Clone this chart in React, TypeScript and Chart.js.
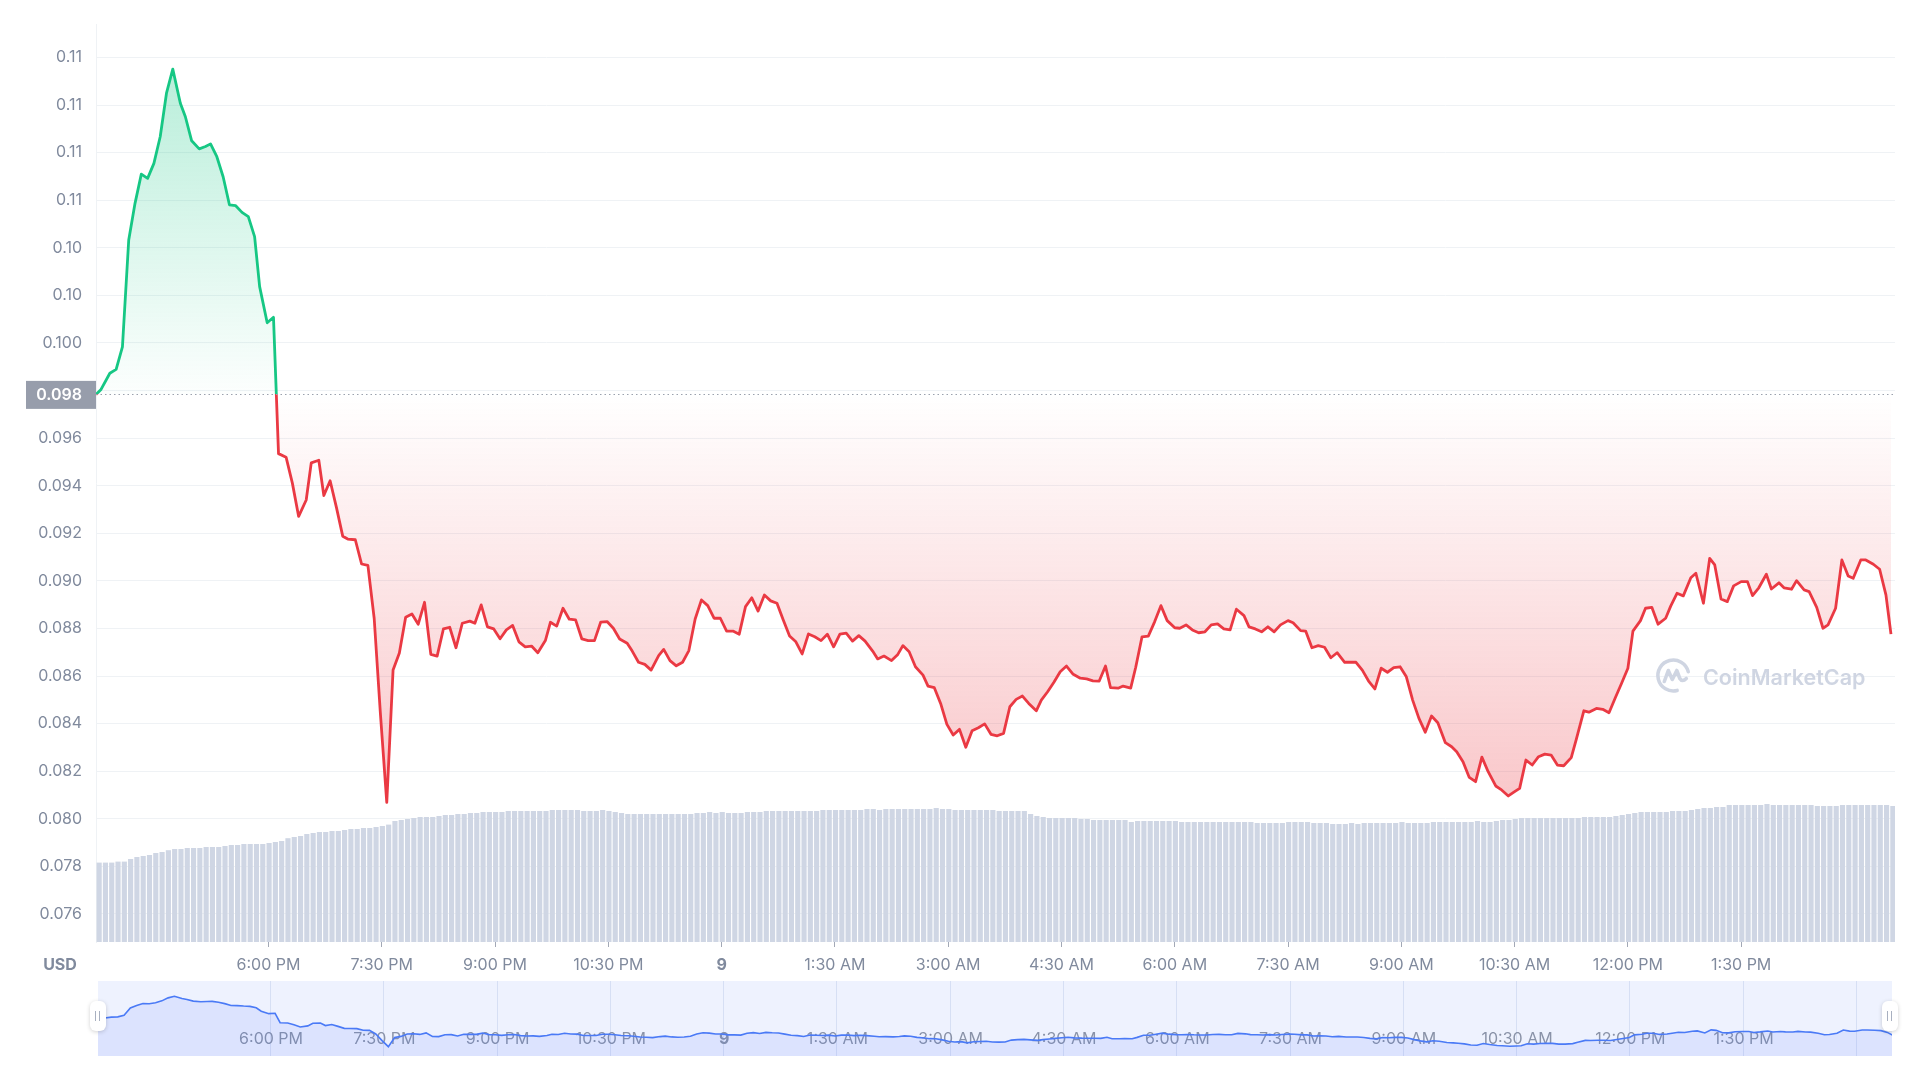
import React, { useEffect, useRef } from 'react';
import { Chart, registerables } from 'chart.js';

Chart.register(...registerables);

// ---------- data ----------
// time axis: minutes since midnight of the first day (15:43 = 943)
const startMinute = 943;
const axisEndMinute = 2372.2;

const xTickValues = [1080, 1170, 1260, 1350, 1440, 1530, 1620, 1710, 1800, 1890, 1980, 2070, 2160, 2250];
const xTickLabels = ['6:00 PM', '7:30 PM', '9:00 PM', '10:30 PM', '9', '1:30 AM', '3:00 AM', '4:30 AM', '6:00 AM', '7:30 AM', '9:00 AM', '10:30 AM', '12:00 PM', '1:30 PM'];
const dateTickValue = 1440;
const navGridValues = [1080, 1170, 1260, 1350, 1440, 1530, 1620, 1710, 1800, 1890, 1980, 2070, 2160, 2250, 2340];

const yTickValues = [0.076, 0.078, 0.08, 0.082, 0.084, 0.086, 0.088, 0.09, 0.092, 0.094, 0.096, 0.098, 0.1, 0.102, 0.104, 0.106, 0.108, 0.11, 0.112];
const yTickLabels = ['0.076', '0.078', '0.080', '0.082', '0.084', '0.086', '0.088', '0.090', '0.092', '0.094', '0.096', '0.098', '0.100', '0.10', '0.10', '0.11', '0.11', '0.11', '0.11'];
const yMin = 0.074821;
const yMax = 0.113409;

const openPrice = 0.09784;

// minutes after start for each price point
const priceMinutes = [
  0, 4, 11, 16, 21, 26, 31, 36, 41, 46,
  51, 56, 61, 67, 71, 76, 82, 87, 91, 96,
  101, 106, 111, 116, 121, 126, 130, 136, 141, 145,
  151, 156, 161, 167, 171, 177, 181, 186, 191, 196,
  200, 206, 211, 216, 221, 226, 231, 236, 241, 246,
  251, 256, 261, 266, 271, 276, 281, 286, 291, 297,
  301, 306, 311, 316, 321, 326, 331, 336, 341, 346,
  351, 357, 361, 366, 371, 376, 381, 386, 391, 396,
  401, 406, 411, 416, 422, 426, 431, 436, 441, 447,
  451, 456, 461, 466, 471, 476, 481, 486, 491, 496,
  501, 506, 511, 516, 521, 526, 531, 536, 541, 546,
  551, 556, 561, 566, 571, 576, 581, 586, 591, 596,
  601, 606, 611, 617, 621, 626, 632, 637, 641, 646,
  651, 657, 661, 666, 671, 676, 681, 686, 691, 696,
  701, 706, 711, 716, 721, 726, 731, 736, 741, 747,
  751, 756, 761, 766, 771, 776, 782, 787, 792, 797,
  802, 806, 812, 816, 822, 826, 831, 836, 841, 846,
  851, 857, 861, 866, 871, 876, 881, 886, 891, 896,
  901, 906, 912, 916, 921, 926, 931, 936, 941, 947,
  951, 957, 961, 966, 971, 976, 981, 986, 992, 996,
  1001, 1006, 1011, 1016, 1021, 1026, 1031, 1036, 1041, 1046,
  1051, 1056, 1061, 1066, 1072, 1077, 1081, 1086, 1091, 1096,
  1101, 1106, 1112, 1116, 1122, 1127, 1131, 1136, 1141, 1146,
  1151, 1156, 1161, 1166, 1172, 1176, 1182, 1186, 1192, 1197,
  1202, 1207, 1212, 1217, 1221, 1227, 1231, 1236, 1241, 1247,
  1251, 1256, 1261, 1267, 1271, 1277, 1282, 1286, 1291, 1296,
  1301, 1307, 1312, 1316, 1321, 1327, 1331, 1337, 1341, 1347,
  1351, 1357, 1361, 1367, 1372, 1376, 1382, 1387, 1392, 1396,
  1402, 1406, 1412, 1417, 1422, 1426,
];

const priceValues = [
  0.09784, 0.09805, 0.09873, 0.09889, 0.09984, 0.10433, 0.10587, 0.1071, 0.10692, 0.10755,
  0.10867, 0.1105, 0.11151, 0.11008, 0.10951, 0.1085, 0.10816, 0.10826, 0.10837, 0.10783,
  0.10699, 0.10581, 0.10577, 0.10549, 0.10531, 0.10447, 0.10237, 0.10085, 0.10108, 0.09535,
  0.0952, 0.09411, 0.09271, 0.0934, 0.09496, 0.09507, 0.09359, 0.09421, 0.09309, 0.09188,
  0.09176, 0.09173, 0.09071, 0.09065, 0.08843, 0.08438, 0.08069, 0.08625, 0.08697, 0.08847,
  0.08861, 0.08818, 0.0891, 0.08691, 0.08684, 0.08798, 0.08805, 0.08719, 0.08822, 0.08831,
  0.08822, 0.08899, 0.08807, 0.08798, 0.08757, 0.08794, 0.08813, 0.08744, 0.08723, 0.08726,
  0.08698, 0.08749, 0.08826, 0.0881, 0.08885, 0.08839, 0.08836, 0.08756, 0.08749, 0.08749,
  0.08827, 0.08829, 0.08801, 0.08756, 0.08738, 0.08705, 0.08658, 0.08649, 0.08625, 0.08686,
  0.08712, 0.08665, 0.08643, 0.08658, 0.08707, 0.0884, 0.0892, 0.08896, 0.08843, 0.08843,
  0.08789, 0.08789, 0.08776, 0.08892, 0.08929, 0.08873, 0.08941, 0.08916, 0.08906, 0.08836,
  0.08768, 0.08744, 0.08693, 0.08777, 0.08765, 0.08749, 0.08776, 0.08723, 0.08776, 0.0878,
  0.08747, 0.0877, 0.08747, 0.08705, 0.08672, 0.08684, 0.08665, 0.08691, 0.08728, 0.08702,
  0.08639, 0.08604, 0.08558, 0.08551, 0.08485, 0.08397, 0.08352, 0.08376, 0.08301, 0.0837,
  0.08383, 0.08399, 0.08355, 0.08349, 0.08359, 0.08471, 0.08502, 0.08516, 0.08485, 0.08454,
  0.08499, 0.08534, 0.08574, 0.08618, 0.08642, 0.08609, 0.08591, 0.08588, 0.0858, 0.08579,
  0.08642, 0.08551, 0.08549, 0.08558, 0.08549, 0.08637, 0.08765, 0.08768, 0.08828, 0.08896,
  0.08833, 0.08803, 0.08801, 0.08815, 0.08794, 0.08782, 0.08786, 0.08815, 0.08819, 0.08798,
  0.08794, 0.08881, 0.08854, 0.08807, 0.08798, 0.08786, 0.08807, 0.08786, 0.08815, 0.08833,
  0.08824, 0.08791, 0.08789, 0.08719, 0.08728, 0.08721, 0.08677, 0.08698, 0.08658, 0.08658,
  0.08658, 0.08625, 0.08579, 0.08546, 0.08633, 0.08616, 0.08635, 0.08639, 0.08597, 0.08499,
  0.08422, 0.08364, 0.08432, 0.08404, 0.0832, 0.08303, 0.08282, 0.0824, 0.08174, 0.08156,
  0.08259, 0.08198, 0.08138, 0.08124, 0.08096, 0.08114, 0.08128, 0.08247, 0.08226, 0.08261,
  0.08272, 0.08268, 0.08226, 0.08223, 0.08257, 0.08334, 0.08454, 0.08448, 0.08464, 0.0846,
  0.08446, 0.08509, 0.0857, 0.08633, 0.08789, 0.08833, 0.08885, 0.08889, 0.08818, 0.08843,
  0.08894, 0.08948, 0.08937, 0.09013, 0.09032, 0.08906, 0.09095, 0.09067, 0.08924, 0.08913,
  0.08979, 0.08997, 0.08997, 0.08938, 0.08971, 0.09028, 0.08966, 0.08992, 0.08971, 0.08965,
  0.09001, 0.08962, 0.08955, 0.08889, 0.08801, 0.08815, 0.08885, 0.09088, 0.09021, 0.09011,
  0.09088, 0.09088, 0.0907, 0.09049, 0.08941, 0.08776,
];

// volume bars (5-minute buckets), millions USD
const volumeFirstMinute = 945.5;
const volumeStepMinutes = 5;
const volumeMax = 45.9;
const volumeValues = [
  3.97, 3.97, 3.97, 4.02, 4.02, 4.15, 4.25, 4.3, 4.35, 4.45,
  4.5, 4.59, 4.65, 4.65, 4.7, 4.7, 4.7, 4.75, 4.75, 4.75,
  4.8, 4.85, 4.85, 4.9, 4.9, 4.9, 4.9, 4.95, 5.0, 5.05,
  5.19, 5.25, 5.3, 5.4, 5.45, 5.5, 5.5, 5.55, 5.55, 5.6,
  5.65, 5.65, 5.7, 5.7, 5.75, 5.8, 5.87, 6.05, 6.1, 6.15,
  6.2, 6.25, 6.25, 6.25, 6.3, 6.35, 6.35, 6.4, 6.4, 6.45,
  6.45, 6.5, 6.5, 6.5, 6.5, 6.55, 6.55, 6.55, 6.55, 6.55,
  6.55, 6.55, 6.6, 6.6, 6.6, 6.6, 6.6, 6.55, 6.55, 6.55,
  6.6, 6.55, 6.5, 6.45, 6.4, 6.4, 6.4, 6.4, 6.4, 6.4,
  6.4, 6.4, 6.4, 6.4, 6.4, 6.45, 6.45, 6.5, 6.45, 6.5,
  6.45, 6.45, 6.45, 6.5, 6.5, 6.5, 6.55, 6.55, 6.55, 6.55,
  6.55, 6.55, 6.55, 6.55, 6.55, 6.6, 6.6, 6.6, 6.6, 6.6,
  6.6, 6.6, 6.65, 6.65, 6.6, 6.65, 6.65, 6.65, 6.65, 6.65,
  6.65, 6.65, 6.65, 6.7, 6.65, 6.65, 6.6, 6.6, 6.6, 6.6,
  6.6, 6.6, 6.6, 6.55, 6.55, 6.55, 6.55, 6.55, 6.4, 6.3,
  6.25, 6.2, 6.2, 6.2, 6.2, 6.2, 6.15, 6.15, 6.1, 6.1,
  6.1, 6.1, 6.1, 6.1, 6.0, 6.05, 6.05, 6.05, 6.05, 6.05,
  6.05, 6.05, 6.0, 6.0, 6.0, 6.0, 6.0, 6.0, 6.0, 6.0,
  6.0, 6.0, 6.0, 6.0, 5.95, 5.95, 5.95, 5.95, 5.95, 6.0,
  6.0, 6.0, 6.0, 5.95, 5.95, 5.95, 5.9, 5.9, 5.9, 5.95,
  5.9, 5.95, 5.95, 5.95, 5.95, 5.95, 5.95, 6.0, 5.95, 5.95,
  5.95, 5.95, 6.0, 6.0, 6.0, 6.0, 6.0, 6.0, 6.0, 6.05,
  6.0, 6.0, 6.05, 6.1, 6.1, 6.15, 6.2, 6.2, 6.2, 6.2,
  6.2, 6.2, 6.2, 6.2, 6.2, 6.2, 6.25, 6.25, 6.25, 6.25,
  6.25, 6.3, 6.35, 6.4, 6.45, 6.5, 6.5, 6.5, 6.5, 6.5,
  6.55, 6.55, 6.55, 6.6, 6.65, 6.7, 6.7, 6.75, 6.75, 6.85,
  6.85, 6.85, 6.85, 6.85, 6.85, 6.9, 6.85, 6.85, 6.85, 6.85,
  6.85, 6.85, 6.85, 6.8, 6.8, 6.8, 6.8, 6.85, 6.85, 6.85,
  6.85, 6.85, 6.85, 6.85, 6.85, 6.8,
];

// navigator ranges
const navMinMinute = 943.3;
const navMaxMinute = 2368.7;
const navYMin = 0.075;
const navYMax = 0.1208;

// ---------- styling ----------
const GREEN = '#16c784';
const RED = '#ea3943';
const LABEL = '#808a9d';
const GRID = '#eff2f5';
const FONT = 'Inter';

function splitFraction(chart: any): number {
  const { chartArea, scales } = chart;
  const yb = scales.y.getPixelForValue(openPrice);
  const f = (yb - chartArea.top) / (chartArea.bottom - chartArea.top);
  return Math.min(1, Math.max(0, f));
}

function lineColor(context: any) {
  const chart = context.chart;
  const { ctx, chartArea } = chart;
  if (!chartArea || !chart.scales.y) return GREEN;
  const f = splitFraction(chart);
  const g = ctx.createLinearGradient(0, chartArea.top, 0, chartArea.bottom);
  g.addColorStop(0, GREEN);
  g.addColorStop(f, GREEN);
  g.addColorStop(Math.min(1, f + 0.0001), RED);
  g.addColorStop(1, RED);
  return g;
}

function fillColor(context: any) {
  const chart = context.chart;
  const { ctx, chartArea } = chart;
  if (!chartArea || !chart.scales.y) return 'rgba(22,199,132,0.1)';
  const f = splitFraction(chart);
  const g = ctx.createLinearGradient(0, chartArea.top, 0, chartArea.bottom);
  g.addColorStop(0, 'rgba(22,199,132,0.34)');
  g.addColorStop(f, 'rgba(22,199,132,0.01)');
  g.addColorStop(Math.min(1, f + 0.0001), 'rgba(234,57,67,0.0)');
  g.addColorStop(1, 'rgba(234,57,67,0.38)');
  return g;
}

const overlayPlugin = {
  id: 'cmcOverlay',
  afterDatasetsDraw(chart: any) {
    const { ctx, chartArea, scales } = chart;
    const yb = scales.y.getPixelForValue(openPrice);
    ctx.save();
    // dotted open-price line
    ctx.strokeStyle = '#9ba1ad';
    ctx.lineWidth = 1;
    ctx.setLineDash([1.5, 3]);
    ctx.beginPath();
    const yy = Math.round(yb) + 0.5;
    ctx.moveTo(chartArea.left, yy);
    ctx.lineTo(chartArea.right, yy);
    ctx.stroke();
    ctx.setLineDash([]);
    // price box
    ctx.fillStyle = '#979dab';
    ctx.fillRect(26, yb - 13.5, chartArea.left - 26, 28);
    ctx.fillStyle = '#ffffff';
    ctx.font = `600 16px ${FONT}`;
    ctx.textAlign = 'right';
    ctx.textBaseline = 'middle';
    ctx.fillText(openPrice.toFixed(3), chartArea.left - 14, yb + 1);
    // currency label
    ctx.fillStyle = LABEL;
    ctx.font = `700 16px ${FONT}`;
    ctx.textAlign = 'center';
    ctx.fillText('USD', 60, chartArea.bottom + 23);
    // watermark
    const cx = 1673.3;
    const cy = 675.5;
    ctx.strokeStyle = '#cfd5e2';
    ctx.lineWidth = 3.6;
    ctx.lineCap = 'round';
    ctx.lineJoin = 'round';
    ctx.beginPath();
    ctx.arc(cx, cy, 15.4, Math.PI * 0.42, Math.PI * 1.92);
    ctx.stroke();
    ctx.beginPath();
    ctx.moveTo(cx - 9, cy + 6);
    ctx.lineTo(cx - 5, cy - 5);
    ctx.lineTo(cx - 1, cy + 4);
    ctx.lineTo(cx + 3.5, cy - 5);
    ctx.lineTo(cx + 6.5, cy + 3);
    ctx.quadraticCurveTo(cx + 9, cy + 7, cx + 13, cy + 3);
    ctx.stroke();
    ctx.fillStyle = '#cfd5e2';
    ctx.font = `600 21.5px ${FONT}`;
    ctx.textAlign = 'left';
    ctx.textBaseline = 'alphabetic';
    ctx.fillText('CoinMarketCap', 1703, 685);
    ctx.restore();
  },
};

const navPlugin = {
  id: 'navDecor',
  beforeDatasetsDraw(chart: any) {
    const { ctx, chartArea, scales } = chart;
    ctx.save();
    ctx.strokeStyle = 'rgba(170,185,225,0.35)';
    ctx.lineWidth = 1;
    navGridValues.forEach((v) => {
      const x = Math.round(scales.x.getPixelForValue(v)) + 0.5;
      ctx.beginPath();
      ctx.moveTo(x, chartArea.top);
      ctx.lineTo(x, chartArea.bottom);
      ctx.stroke();
    });
    ctx.fillStyle = '#8a93a8';
    ctx.textAlign = 'center';
    ctx.textBaseline = 'middle';
    xTickValues.forEach((v, i) => {
      ctx.font = `${v === dateTickValue ? 700 : 400} 16px ${FONT}`;
      ctx.fillText(xTickLabels[i], scales.x.getPixelForValue(v) + 1, chartArea.top + 58);
    });
    ctx.restore();
  },
};

export default function App() {
  const mainRef = useRef<HTMLCanvasElement>(null);
  const navRef = useRef<HTMLCanvasElement>(null);

  useEffect(() => {
    const priceData = priceMinutes.map((m, i) => ({ x: startMinute + m, y: priceValues[i] }));
    const volumeData = volumeValues.map((v, i) => ({ x: volumeFirstMinute + i * volumeStepMinutes, y: v }));

    const main = new Chart(mainRef.current as HTMLCanvasElement, {
      type: 'line',
      data: {
        datasets: [
          {
            type: 'line',
            data: priceData,
            yAxisID: 'y',
            order: 1,
            borderColor: lineColor,
            backgroundColor: fillColor,
            borderWidth: 2.8,
            borderJoinStyle: 'round',
            pointRadius: 0,
            tension: 0,
            fill: { target: { value: openPrice } },
          } as any,
          {
            type: 'bar',
            data: volumeData,
            yAxisID: 'yv',
            order: 2,
            backgroundColor: '#cfd6e4',
            borderWidth: 0,
            barPercentage: 0.82,
            categoryPercentage: 1,
          } as any,
        ],
      },
      options: {
        responsive: false,
        animation: false,
        events: [],
        layout: { padding: { left: 0, right: 25, top: 24, bottom: 0 } },
        plugins: { legend: { display: false }, tooltip: { enabled: false } },
        scales: {
          x: {
            type: 'linear',
            min: startMinute,
            max: axisEndMinute,
            offset: false,
            afterBuildTicks: (s: any) => {
              s.ticks = xTickValues.map((v) => ({ value: v }));
            },
            afterFit: (s: any) => {
              s.height = 58;
            },
            grid: { offset: false, drawOnChartArea: false, drawTicks: true, tickLength: 5, tickColor: '#a3a9b6', lineWidth: 1 },
            border: { display: false },
            ticks: {
              autoSkip: false,
              maxRotation: 0,
              padding: 9,
              color: LABEL,
              font: (c: any) => ({ family: FONT, size: 16, weight: c.tick && c.tick.value === dateTickValue ? 'bold' : 'normal' }),
              callback: (_v: any, i: number) => xTickLabels[i],
            },
          },
          y: {
            type: 'linear',
            position: 'left',
            min: yMin,
            max: yMax,
            afterBuildTicks: (s: any) => {
              s.ticks = yTickValues.map((v) => ({ value: v }));
            },
            afterFit: (s: any) => {
              s.width = 96;
            },
            grid: { color: GRID, drawTicks: false, lineWidth: 1 },
            border: { display: true, color: GRID },
            ticks: {
              autoSkip: false,
              padding: 14,
              color: LABEL,
              font: { family: FONT, size: 16 },
              callback: (_v: any, i: number) => yTickLabels[i],
            },
          },
          yv: {
            type: 'linear',
            display: false,
            min: 0,
            max: volumeMax,
          },
        },
      } as any,
      plugins: [overlayPlugin],
    });

    const nav = new Chart(navRef.current as HTMLCanvasElement, {
      type: 'line',
      data: {
        datasets: [
          {
            data: priceData,
            borderColor: '#4a7af6',
            backgroundColor: 'rgba(56,97,251,0.10)',
            borderWidth: 1.6,
            pointRadius: 0,
            tension: 0,
            fill: 'start',
          } as any,
        ],
      },
      options: {
        responsive: false,
        animation: false,
        events: [],
        layout: { padding: 0 },
        plugins: { legend: { display: false }, tooltip: { enabled: false } },
        scales: {
          x: { type: 'linear', display: false, min: navMinMinute, max: navMaxMinute },
          y: { type: 'linear', display: false, min: navYMin, max: navYMax },
        },
      } as any,
      plugins: [navPlugin],
    });

    return () => {
      main.destroy();
      nav.destroy();
    };
  }, []);

  const handle = (left: number) => (
    <div
      style={{
        position: 'absolute',
        left,
        top: 1001,
        width: 16,
        height: 30,
        background: '#ffffff',
        borderRadius: 6,
        boxShadow: '0 1px 4px rgba(0,0,0,0.18)',
      }}
    >
      <div style={{ position: 'absolute', left: 5, top: 10, width: 1, height: 10, background: '#a8b0c0' }} />
      <div style={{ position: 'absolute', left: 9, top: 10, width: 1, height: 10, background: '#a8b0c0' }} />
    </div>
  );

  return (
    <div style={{ position: 'absolute', left: 0, top: 0, width: 1920, height: 1080, background: '#ffffff', overflow: 'hidden' }}>
      <canvas ref={mainRef} width={1920} height={1000} style={{ position: 'absolute', left: 0, top: 0, width: 1920, height: 1000 }} />
      <canvas
        ref={navRef}
        width={1794}
        height={75}
        style={{ position: 'absolute', left: 98, top: 981, width: 1794, height: 75, background: '#eef2fe' }}
      />
      {handle(90)}
      {handle(1882)}
    </div>
  );
}
